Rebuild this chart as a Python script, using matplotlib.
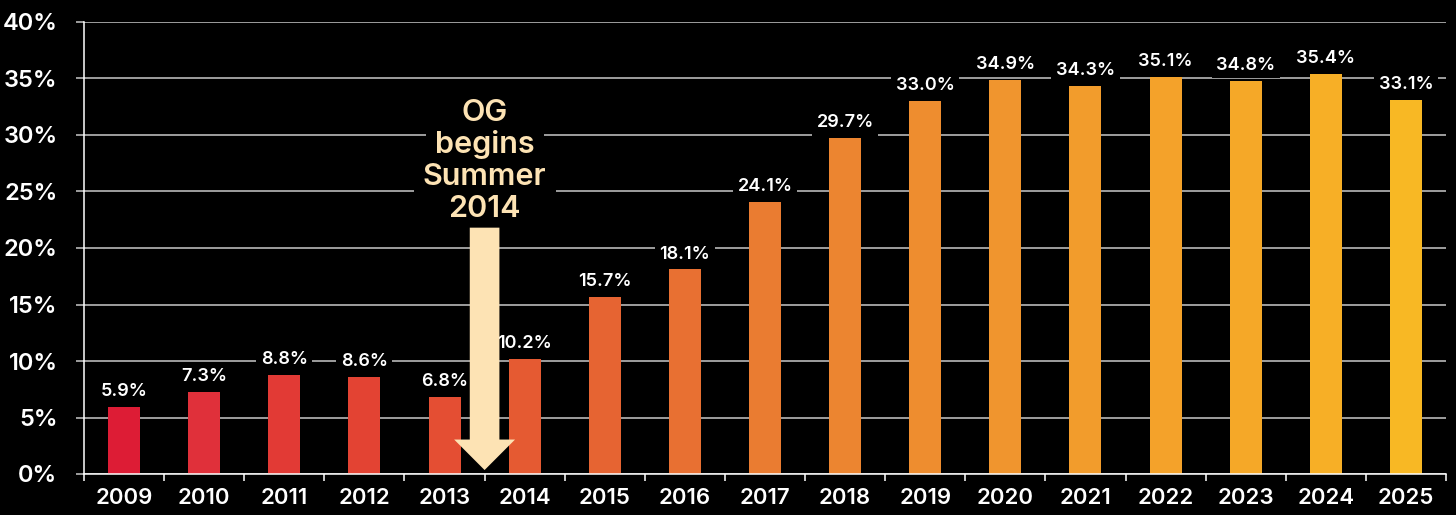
import matplotlib
matplotlib.use("Agg")
import matplotlib.pyplot as plt
import numpy as np

years = ["2009", "2010", "2011", "2012", "2013", "2014", "2015", "2016", "2017",
         "2018", "2019", "2020", "2021", "2022", "2023", "2024", "2025"]
values = [5.9, 7.3, 8.8, 8.6, 6.8, 10.2, 15.7, 18.1, 24.1, 29.7, 33.0, 34.9,
          34.3, 35.1, 34.8, 35.4, 33.1]
bar_colors = ["#DD1C35", "#E0303A", "#E23A35", "#E34333", "#E44E33", "#E55A32",
              "#E66432", "#E87032", "#EA7C31", "#EC8530", "#EE8D2F", "#F0952E",
              "#F29C2C", "#F4A22A", "#F5A828", "#F7AF26", "#F8B824"]
y_ticks = [0, 5, 10, 15, 20, 25, 30, 35, 40]
note_lines = ["OG", "begins", "Summer", "2014"]

plt.rcParams['font.family'] = ['Inter', 'DejaVu Sans']

fig = plt.figure(figsize=(14.56, 5.15), dpi=100, facecolor="black")
ax = fig.add_axes([84/1456, 41/515, (1446-84)/1456, (474-22)/515])
ax.set_facecolor("black")

x = np.arange(len(years))
ax.bar(x, values, width=0.4, color=bar_colors, zorder=3)

ax.set_xlim(-0.5, len(years) - 0.5)
ax.set_ylim(0, 40)
ax.set_yticks(y_ticks)
ax.set_yticklabels([f"{t}%" for t in y_ticks])
ax.yaxis.grid(True, color="#C8C8C8", lw=1.1, zorder=1)
ax.set_axisbelow(True)

ax.set_xticks(x)
ax.set_xticklabels(years)
ax.set_xticks(np.arange(-0.5, len(years)), minor=True)
ax.tick_params(axis="x", which="major", length=0, pad=10, labelsize=16,
               labelcolor="white")
ax.tick_params(axis="x", which="minor", length=5, width=1.1, color="white")
ax.tick_params(axis="y", length=6, width=1.1, color="#C8C8C8", pad=13,
               labelsize=17, labelcolor="white")
for lbl in ax.get_xticklabels() + ax.get_yticklabels():
    lbl.set_fontweight("semibold")

for side in ["top", "right"]:
    ax.spines[side].set_visible(False)
for side in ["left", "bottom"]:
    ax.spines[side].set_color("white")
    ax.spines[side].set_linewidth(1.1)
    ax.spines[side].set_zorder(4)

for xi, v in zip(x, values):
    ax.annotate(f"{v:.1f}%", (xi, v), xytext=(0, 5), textcoords="offset points",
                ha="center", va="bottom", color="white", fontsize=13,
                fontweight="semibold", zorder=5,
                bbox=dict(boxstyle="square,pad=0.25", fc="black", ec="none"))

# annotation arrow
arrow_color = "#FDE3B4"
ax.arrow(4.5, 21.8, 0, -21.45, width=0.37, head_width=0.76, head_length=2.7,
         length_includes_head=True, color=arrow_color, zorder=6, lw=0)

line_y = [(474-113)/11.3, (474-145)/11.3, (474-177)/11.3, (474-209)/11.3]
# background boxes first, then the text on top
for txt, yy in zip(note_lines, line_y):
    ax.text(4.5, yy, txt, ha="center", va="center", color="none",
            fontsize=22, fontweight="semibold", zorder=5,
            bbox=dict(boxstyle="square,pad=0.3", fc="black", ec="none"))
for txt, yy in zip(note_lines, line_y):
    ax.text(4.5, yy, txt, ha="center", va="center", color=arrow_color,
            fontsize=22, fontweight="semibold", zorder=5.5)

fig.savefig("out.png", dpi=100, facecolor="black")
